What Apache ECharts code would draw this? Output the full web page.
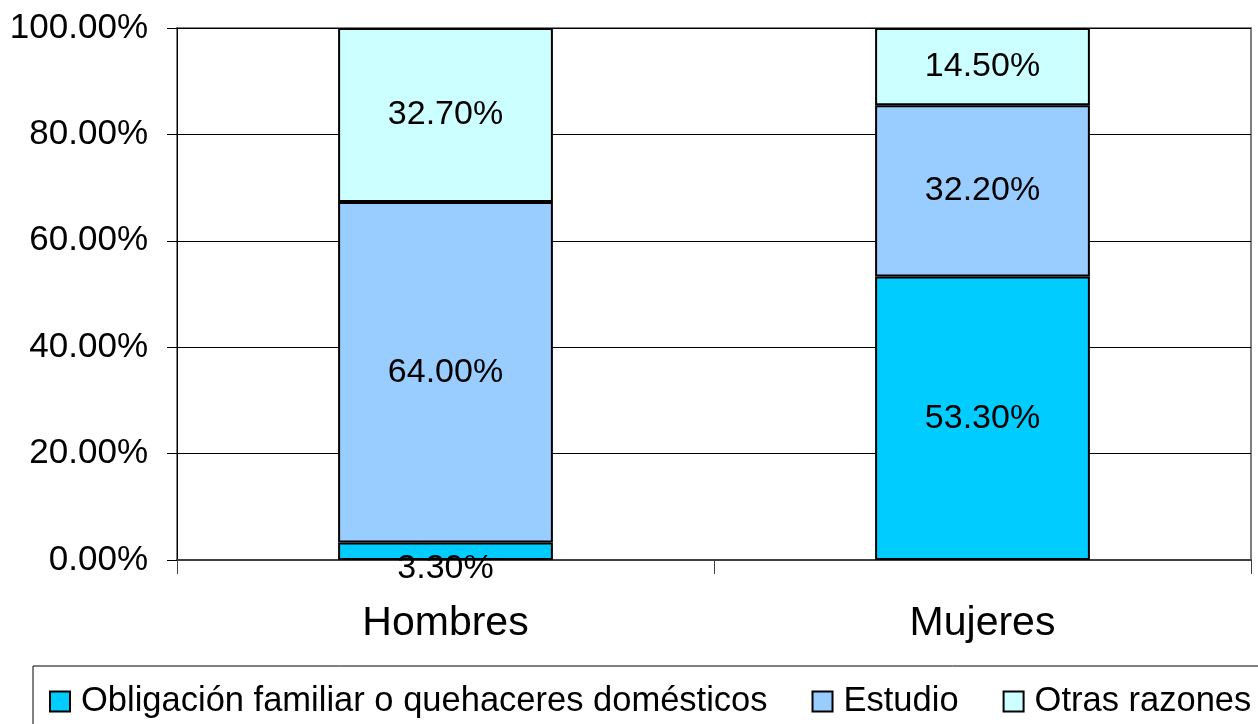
<!DOCTYPE html>
<html>
<head>
<meta charset="utf-8">
<script src="https://cdn.jsdelivr.net/npm/echarts@6/dist/echarts.min.js"></script>
<style>
  html, body { margin: 0; padding: 0; background: #fff; }
  #chart { width: 1258px; height: 724px; }
</style>
</head>
<body>
<div id="chart"></div>
<script>
var categories = ['Hombres', 'Mujeres'];
var seriesNames = ['Obligación familiar o quehaceres domésticos', 'Estudio', 'Otras razones'];
var obligacion = [3.3, 53.3];
var estudio = [64.0, 32.2];
var otras = [32.7, 14.5];
var colors = ['#00CCFF', '#99CCFF', '#CCFFFF'];

var font = "'Liberation Sans', Arial, sans-serif";

function pct(v) { return v.toFixed(2) + '%'; }

// the small 3.30% label sits below the bar in the original
var obligacionData = obligacion.map(function (v) {
  if (v < 5) return { value: v, label: { offset: [0, 17] } };
  return v;
});

var chart = echarts.init(document.getElementById('chart'));

function makeSeries(name, data, color) {
  return {
    name: name,
    type: 'bar',
    stack: 'total',
    barWidth: '40%',
    data: data,
    itemStyle: { color: color, borderColor: '#000', borderWidth: 2 },
    label: {
      show: true,
      position: 'inside',
      color: '#000',
      fontFamily: font,
      fontSize: 34,
      formatter: function (p) { return pct(p.value); }
    },
    emphasis: { disabled: true }
  };
}

var option = {
  animation: false,
  color: colors,
  grid: {
    left: 177, right: 7, top: 28, bottom: 164,
    show: true, borderColor: '#808080', borderWidth: 2
  },
  legend: {
    left: 44,
    top: 679,
    width: 1400,
    itemWidth: 20,
    itemHeight: 20,
    itemGap: 44,
    icon: 'rect',
    itemStyle: { borderColor: '#000', borderWidth: 2 },
    textStyle: { fontFamily: font, fontSize: 34.5, color: '#000', padding: [0, 0, 0, 6] },
    data: seriesNames
  },
  graphic: [{
    type: 'rect',
    shape: { x: 33, y: 666, width: 1300, height: 100 },
    style: { fill: 'none', stroke: '#000', lineWidth: 1 },
    silent: true,
    z: -1
  }],
  xAxis: {
    type: 'category',
    data: categories,
    axisLine: { lineStyle: { color: '#404040', width: 2 } },
    axisTick: { show: true, length: 14, lineStyle: { color: '#404040' } },
    axisLabel: { fontFamily: font, fontSize: 41, color: '#000', margin: 43 },
    splitLine: { show: false }
  },
  yAxis: {
    type: 'value',
    min: 0,
    max: 100,
    interval: 20,
    axisLine: { show: true, lineStyle: { color: '#000', width: 1 } },
    axisTick: { show: true, length: 10, lineStyle: { color: '#000' } },
    axisLabel: {
      fontFamily: font, fontSize: 35, color: '#000', margin: 29,
      formatter: function (v) { return pct(v); }
    },
    splitLine: { show: true, lineStyle: { color: '#000', width: 1 } }
  },
  series: [
    makeSeries(seriesNames[0], obligacionData, colors[0]),
    makeSeries(seriesNames[1], estudio, colors[1]),
    makeSeries(seriesNames[2], otras, colors[2])
  ]
};

chart.setOption(option);
</script>
</body>
</html>
